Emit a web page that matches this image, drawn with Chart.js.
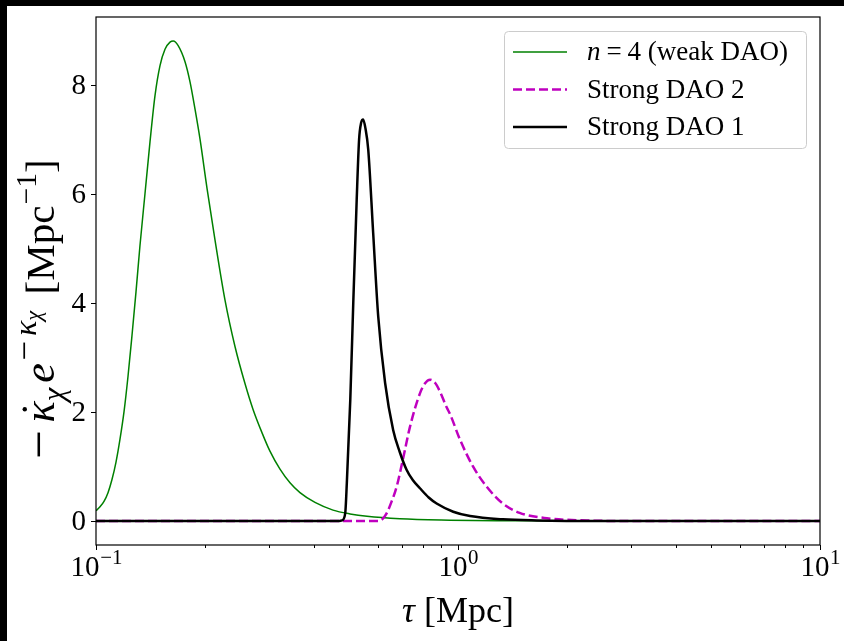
<!DOCTYPE html>
<html>
<head>
<meta charset="utf-8">
<title>Visibility function</title>
<script src="https://cdn.jsdelivr.net/npm/chart.js@4.4.0/dist/chart.umd.min.js"></script>
<style>
  html, body { margin: 0; padding: 0; background: #000; }
  #wrap { position: absolute; left: 7px; top: 6px; width: 837px; height: 635px; background: #fff; }
  canvas { display: block; }
</style>
</head>
<body>
<div id="wrap"><canvas id="chart" width="837" height="635"></canvas></div>
<script>
// conformal time tau [Mpc] and visibility values for each model
const tauWeak = [0.1, 0.10045, 0.10258, 0.10522, 0.10794, 0.11070, 0.11357, 0.11649, 0.11949, 0.12257,
  0.12572, 0.12897, 0.13228, 0.13656, 0.14098, 0.14554, 0.15025, 0.15510, 0.16012, 0.16352, 0.16849,
  0.17616, 0.18185, 0.18773, 0.19380, 0.20262, 0.21320, 0.22718, 0.24207, 0.25795, 0.27140, 0.28737,
  0.30236, 0.32231, 0.34345, 0.36598, 0.40269, 0.45155, 0.50309, 0.56050, 0.69130, 0.95040, 1.3061,
  1.7957, 2.4678, 10];
const weakDAO = [0.19, 0.2, 0.26, 0.36, 0.52, 0.76, 1.08, 1.5, 2.0, 2.65,
  3.4, 4.2, 5.05, 6.0, 6.95, 7.8, 8.35, 8.65, 8.78, 8.8, 8.72,
  8.42, 8.05, 7.55, 7.0, 6.1, 5.15, 4.05, 3.2, 2.52, 2.05, 1.62,
  1.28, 0.95, 0.7, 0.52, 0.34, 0.2, 0.13, 0.085, 0.04, 0.016, 0.006,
  0.002, 0, 0];

const tauStrong2 = [0.1, 0.60, 0.615, 0.635, 0.655, 0.677, 0.707, 0.737, 0.785, 0.81, 0.837, 0.865,
  0.892, 0.931, 0.952, 1.013, 1.10, 1.20, 1.33, 1.48, 1.76, 2.27, 3.0, 10];
const strongDAO2 = [0, 0, 0.02, 0.14, 0.35, 0.63, 1.18, 1.73, 2.34, 2.52, 2.59, 2.53,
  2.37, 2.08, 1.95, 1.49, 1.0, 0.63, 0.32, 0.15, 0.05, 0.01, 0, 0];

const tauStrong1 = [0.1, 0.47, 0.478, 0.488, 0.493, 0.504, 0.514, 0.525, 0.533, 0.540, 0.547, 0.555,
  0.565, 0.583, 0.602, 0.629, 0.662, 0.69, 0.721, 0.75, 0.785, 0.83, 0.873, 0.97, 1.08, 1.33, 1.65, 2.5, 10];
const strongDAO1 = [0, 0, 0.01, 0.14, 0.69, 2.22, 4.06, 5.89, 6.99, 7.3, 7.36, 7.2,
  6.81, 5.28, 3.75, 2.53, 1.67, 1.27, 0.94, 0.75, 0.60, 0.43, 0.32, 0.17, 0.09, 0.03, 0.01, 0, 0];

const yTicks = [0, 2, 4, 6, 8];
const xMajor = [0.1, 1, 10];
const xExponents = ['\u22121', '0', '1'];

const SERIF = "'Liberation Serif', 'DejaVu Serif', serif";
const GREEN = '#008000';
const MAGENTA = '#bf00bf';

function pts(xs, ys) { return xs.map((x, i) => ({ x: x, y: ys[i] })); }

// draws a run of text pieces with sub/superscripts; pre/gap are extra spacing in em
function drawRich(ctx, parts, x, y, align, size) {
  let w = 0;
  const runs = parts.map(p => {
    const fs = size * (p.s || 1);
    const font = (p.it ? 'italic ' : '') + fs + 'px ' + SERIF;
    ctx.font = font;
    w += (p.pre || 0) * size;
    const pw = ctx.measureText(p.t).width;
    const r = { p, fs, font, pw, x0: w };
    w += pw + (p.gap || 0) * size;
    return r;
  });
  const sx = align === 'center' ? x - w / 2 : (align === 'right' ? x - w : x);
  ctx.textAlign = 'left';
  ctx.textBaseline = 'alphabetic';
  runs.forEach(r => {
    const ty = y + (r.p.dy || 0) * size;
    ctx.font = r.font;
    ctx.fillText(r.p.t, sx + r.x0, ty);
    if (r.p.dot) {
      ctx.beginPath();
      ctx.arc(sx + r.x0 + r.pw * 0.62, ty - r.fs * 0.66, r.fs * 0.05, 0, Math.PI * 2);
      ctx.fill();
    }
  });
  return w;
}

const decorations = {
  id: 'decorations',
  afterDraw(chart) {
    const ctx = chart.ctx;
    const a = chart.chartArea;
    const xs = chart.scales.x, ys = chart.scales.y;
    ctx.save();
    ctx.fillStyle = '#000';
    ctx.strokeStyle = '#000';

    // frame
    ctx.lineWidth = 1.2;
    ctx.strokeRect(a.left, a.top, a.right - a.left, a.bottom - a.top);

    // y ticks + labels
    ctx.lineWidth = 1;
    yTicks.forEach(v => {
      const py = Math.round(ys.getPixelForValue(v)) + 0.5;
      ctx.beginPath(); ctx.moveTo(a.left - 5, py); ctx.lineTo(a.left, py); ctx.stroke();
      ctx.font = '29px ' + SERIF;
      ctx.textAlign = 'right';
      ctx.textBaseline = 'middle';
      ctx.fillText(String(v), a.left - 10, py + 1);
    });

    // x ticks: majors with labels, minors at 2..9 per decade
    for (let d = 0.1; d < 10; d *= 10) {
      for (let k = 2; k <= 9; k++) {
        const px = Math.round(xs.getPixelForValue(d * k)) + 0.5;
        ctx.beginPath(); ctx.moveTo(px, a.bottom); ctx.lineTo(px, a.bottom + 3); ctx.stroke();
      }
    }
    xMajor.forEach((v, i) => {
      const px = Math.round(xs.getPixelForValue(v)) + 0.5;
      ctx.beginPath(); ctx.moveTo(px, a.bottom); ctx.lineTo(px, a.bottom + 5); ctx.stroke();
      drawRich(ctx, [{ t: '10' }, { t: xExponents[i], s: 0.72, dy: -0.42, pre: 0.02 }], px, a.bottom + 31, 'center', 29);
    });

    // axis titles
    drawRich(ctx, [{ t: '\u03c4', it: true }, { t: ' [Mpc]' }], (a.left + a.right) / 2, 616, 'center', 36);
    ctx.save();
    ctx.translate(47, 303);
    ctx.rotate(-Math.PI / 2);
    drawRich(ctx, [
      { t: '\u2212', s: 1.25, dy: 0.06, gap: 0.18 },
      { t: '\u03ba', it: true, dot: true, s: 1.08 },
      { t: '\u03c7', it: true, s: 0.75, dy: 0.24, gap: 0.12 },
      { t: 'e', it: true, s: 1.08 },
      { t: '\u2212', s: 0.85, dy: -0.44, pre: 0.06, gap: 0.12 },
      { t: '\u03ba', it: true, s: 0.78, dy: -0.45 },
      { t: '\u03c7', it: true, s: 0.55, dy: -0.32 },
      { t: ' [Mpc', pre: 0.15 },
      { t: '\u22121', s: 0.72, dy: -0.45, pre: 0.03 },
      { t: ']' }
    ], 0, 0, 'center', 41);
    ctx.restore();

    // legend box
    const bx = 497, by = 25, bw = 302, bh = 117;
    ctx.beginPath();
    ctx.roundRect(bx + 0.5, by + 0.5, bw, bh, 4);
    ctx.fillStyle = 'rgba(255,255,255,0.8)';
    ctx.fill();
    ctx.strokeStyle = '#cccccc';
    ctx.lineWidth = 1;
    ctx.stroke();

    const rows = [
      { color: GREEN, width: 1.5, dash: [], label: [{ t: 'n', it: true }, { t: '=', pre: 0.22, gap: 0.22 }, { t: '4 (weak DAO)' }] },
      { color: MAGENTA, width: 2.5, dash: [9, 4], label: [{ t: 'Strong DAO 2' }] },
      { color: '#000', width: 2.5, dash: [], label: [{ t: 'Strong DAO 1' }] }
    ];
    rows.forEach((r, i) => {
      const ry = 46 + i * 37.5;
      ctx.strokeStyle = r.color;
      ctx.lineWidth = r.width;
      ctx.setLineDash(r.dash);
      ctx.beginPath(); ctx.moveTo(506, ry); ctx.lineTo(560, ry); ctx.stroke();
      ctx.setLineDash([]);
      ctx.fillStyle = '#000';
      drawRich(ctx, r.label, 580, ry + 8, 'left', 27);
    });
    ctx.restore();
  }
};

new Chart(document.getElementById('chart'), {
  type: 'line',
  data: {
    datasets: [
      { label: 'n = 4 (weak DAO)', data: pts(tauWeak, weakDAO), borderColor: GREEN, borderWidth: 1.5, order: 3 },
      { label: 'Strong DAO 2', data: pts(tauStrong2, strongDAO2), borderColor: MAGENTA, borderWidth: 2.5, borderDash: [9, 4], order: 2 },
      { label: 'Strong DAO 1', data: pts(tauStrong1, strongDAO1), borderColor: '#000', borderWidth: 2.5, order: 1 }
    ]
  },
  options: {
    responsive: false,
    devicePixelRatio: 1,
    animation: false,
    layout: { padding: { left: 89, right: 24, top: 11, bottom: 96 } },
    elements: {
      point: { radius: 0, hoverRadius: 0 },
      line: { cubicInterpolationMode: 'monotone', fill: false }
    },
    scales: {
      x: { type: 'logarithmic', min: 0.1, max: 10, display: false },
      y: { type: 'linear', min: -0.44, max: 9.24, display: false }
    },
    plugins: { legend: { display: false }, tooltip: { enabled: false } }
  },
  plugins: [decorations]
});
</script>
</body>
</html>
